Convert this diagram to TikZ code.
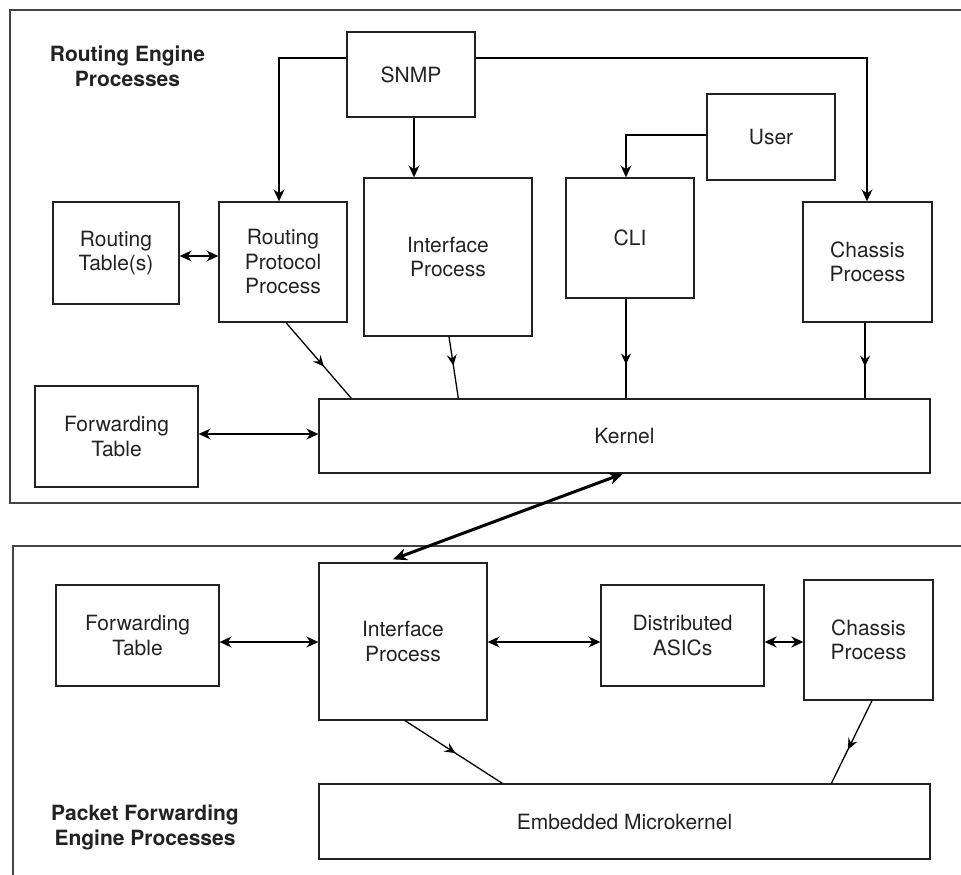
\documentclass[tikz,border=0pt]{standalone}
\usepackage{fontspec}
\setmainfont{TeX Gyre Heros}
\usetikzlibrary{arrows.meta,decorations.markings}
\definecolor{ink}{HTML}{222222}
\tikzset{
  mytip/.tip={Stealth[length=12pt,width=11pt,inset=4pt]},
  bigtip/.tip={Stealth[length=14pt,width=12pt,inset=4.5pt]},
  box/.style={draw=ink,line width=1.3pt,rectangle,inner sep=0pt,align=center,
    font=\fontsize{21}{24.5}\selectfont,text=ink},
  title/.style={align=center,font=\fontsize{21}{25}\selectfont\bfseries,text=ink},
  biconn/.style={draw=black,line width=2pt,mytip-mytip},
  oneconn/.style={draw=black,line width=2pt,-mytip},
  midconn/.style={draw=black,line width=1.3pt,
    postaction={decorate,decoration={markings,mark=at position #1 with {\arrow{Stealth[length=11pt,width=10pt,inset=4pt]}}}}},
  frame/.style={draw=ink!85,line width=1.2pt}
}
\begin{document}
\begin{tikzpicture}[x=1pt,y=-1pt]
\useasboundingbox (0,0) rectangle (961,875);
% frames
\draw[frame] (961,10) -- (10,10) -- (10,503) -- (961,503);
\draw[frame] (961,546) -- (13,546) -- (13,875);
% titles
\node[title] (t1) at (127.5,66) {Routing Engine\\Processes};
\node[title] (t2) at (145,827) {Packet Forwarding\\Engine Processes};
% top nodes
\node[box,minimum width=128,minimum height=85] (snmp) at (411,74.5) {SNMP};
\node[box,minimum width=126,minimum height=102] (rt) at (116,253) {Routing\\Table(s)};
\node[box,minimum width=128,minimum height=120] (rpp) at (283,262) {Routing\\Protocol\\Process};
\node[box,minimum width=168,minimum height=158] (ipt) at (448,257) {Interface\\Process};
\node[box,minimum width=163,minimum height=101] (ftt) at (116.5,436.5) {Forwarding\\Table};
\node[box,minimum width=611,minimum height=74] (kernel) at (624.5,436) {Kernel};
\node[box,minimum width=128,minimum height=86] (user) at (771,137) {User};
\node[box,minimum width=128,minimum height=120] (cli) at (630,238) {CLI};
\node[box,minimum width=129,minimum height=120] (cht) at (867.5,262) {Chassis\\Process};
% bottom nodes
\node[box,minimum width=163,minimum height=101] (ftb) at (137.5,635.5) {Forwarding\\Table};
\node[box,minimum width=168,minimum height=157] (ipb) at (403,641.5) {Interface\\Process};
\node[box,minimum width=163,minimum height=101] (asic) at (682.5,635.5) {Distributed\\ASICs};
\node[box,minimum width=129,minimum height=120] (chb) at (868.5,640) {Chassis\\Process};
\node[box,minimum width=611,minimum height=75] (mk) at (624.5,821.5) {Embedded Microkernel};
% SNMP connectors
\coordinate (sl) at ([yshift=16.5pt]snmp.west);
\coordinate (sr) at ([yshift=16.5pt]snmp.east);
\draw[oneconn] (sl) -| ([xshift=-4pt]rpp.north);
\draw[oneconn] (sr) -| ([xshift=-0.5pt]cht.north);
\draw[oneconn] ([xshift=3pt]snmp.south) -- ([xshift=3pt]snmp.south |- ipt.north);
\draw[oneconn] ([yshift=2pt]user.west) -| ([xshift=-4pt]cli.north);
% horizontal double arrows (top)
\coordinate (a1) at ([yshift=-3pt]rt.east);
\draw[biconn] (a1) -- (rpp.west |- a1);
\coordinate (a2) at ([yshift=2.5pt]ftt.east);
\draw[biconn] (a2) -- (kernel.west |- a2);
% into kernel
\draw[midconn=0.58] ([xshift=3pt]rpp.south) -- ([xshift=33pt]kernel.north west);
\draw[midconn=0.47] ([xshift=1pt]ipt.south) -- ([xshift=140pt]kernel.north west);
\draw[midconn=0.66] ([xshift=-4pt]cli.south) -- ([xshift=-4pt]cli.south |- kernel.north);
\draw[midconn=0.58] ([xshift=-2.5pt]cht.south) -- ([xshift=-2.5pt]cht.south |- kernel.north);
% kernel <-> PFE interface process
\draw[draw=black,line width=3pt,bigtip-bigtip]
  ([xshift=-1.5pt]kernel.south) -- ([xshift=-10pt,yshift=3pt]ipb.north);
% bottom horizontal double arrows
\coordinate (b1) at ([yshift=-6.5pt]ftb.east);
\draw[biconn] (b1) -- (ipb.west |- b1);
\coordinate (b2) at ([yshift=-0.5pt]ipb.east);
\draw[biconn] (b2) -- (asic.west |- b2);
\coordinate (b3) at ([yshift=-6.5pt]asic.east);
\draw[biconn] (b3) -- (chb.west |- b3);
% into microkernel
\draw[midconn=0.52] ([xshift=2pt]ipb.south) -- ([xshift=184pt]mk.north west);
\draw[midconn=0.59] ([xshift=3.5pt]chb.south) -- ([xshift=513pt]mk.north west);
\end{tikzpicture}
\end{document}
